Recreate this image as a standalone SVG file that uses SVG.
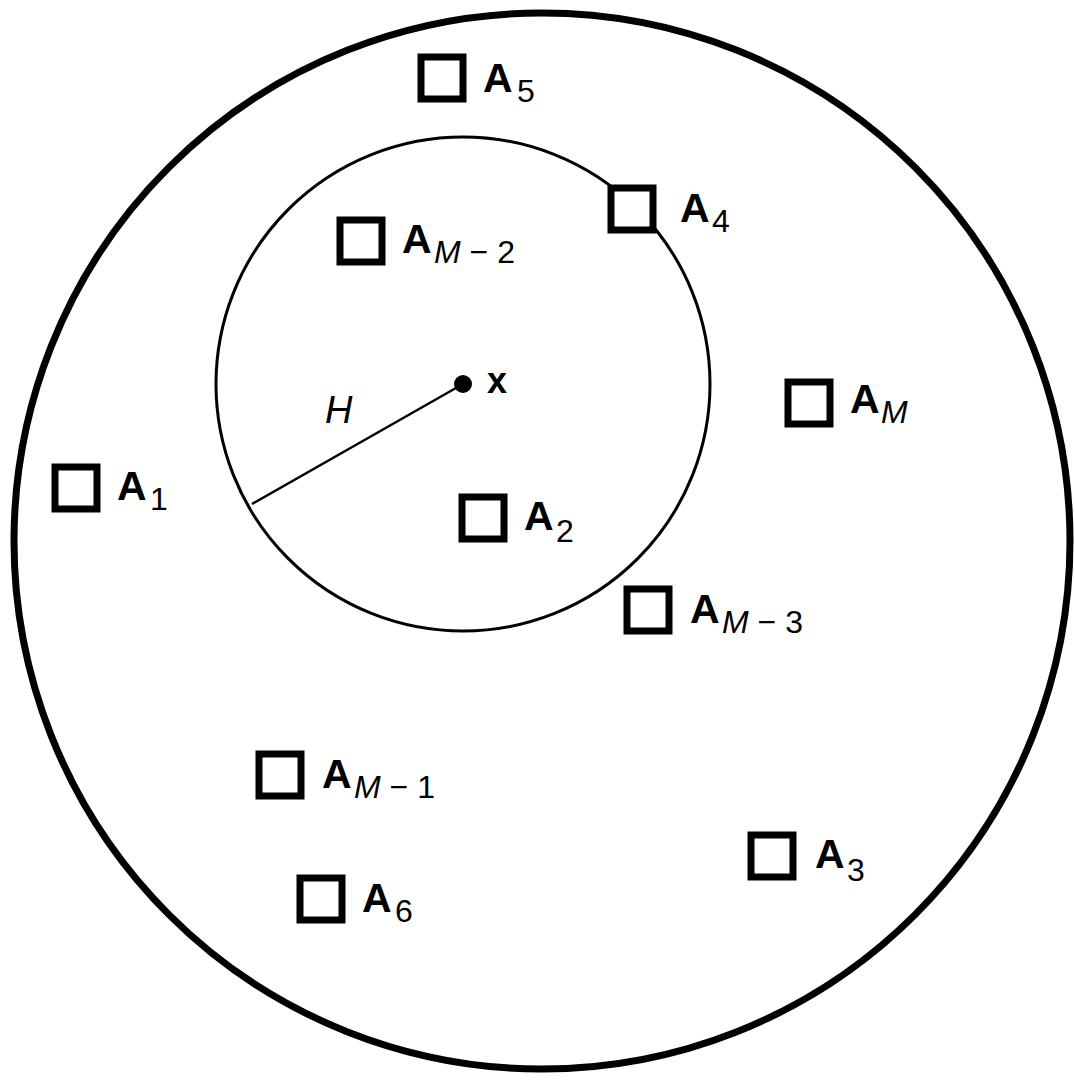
<svg xmlns="http://www.w3.org/2000/svg" width="1074" height="1082" viewBox="0 0 1074 1082">
<style>
.bg{fill:#fff}
.circ{fill:none;stroke:#000}
.sq{fill:#fff;stroke:#000;stroke-width:7}
.a{font-family:"Liberation Sans",Arial,sans-serif;font-weight:bold;font-size:41px;fill:#000}
.s{font-family:"Liberation Sans",Arial,sans-serif;font-weight:normal;font-size:32px}
.i{font-style:italic}
.h{font-family:"Liberation Sans",Arial,sans-serif;font-style:italic;font-size:38px;fill:#000}
.x{font-family:"Liberation Sans",Arial,sans-serif;font-weight:bold;font-size:36px;fill:#000}
</style>
<rect class="bg" x="0" y="0" width="1074" height="1082"/>
<g id="outer-circle"><circle class="circ" cx="542" cy="541" r="528" stroke-width="7"/></g>
<g id="inner-circle"><circle class="circ" cx="463" cy="384" r="247" stroke-width="3"/></g>
<g id="connectors"><line x1="463" y1="384" x2="252" y2="504" stroke="#000" stroke-width="2.5"/></g>
<g id="point-x"><circle cx="463" cy="384" r="9" fill="#000"/><text class="x" x="487" y="393">x</text></g>
<g id="label-H"><text class="h" x="325" y="423">H</text></g>
<g id="A5"><rect class="sq" x="421" y="57" width="42" height="42"/><text class="a" x="483" y="92">A<tspan class="s" x="517" y="102">5</tspan></text></g>
<g id="A4"><rect class="sq" x="611" y="188" width="42" height="42"/><text class="a" x="680" y="222">A<tspan class="s" x="712" y="232">4</tspan></text></g>
<g id="AM-2"><rect class="sq" x="340" y="220" width="42" height="42"/><text class="a" x="402" y="253">A<tspan class="s i" x="434" y="263">M</tspan><tspan class="s"> − 2</tspan></text></g>
<g id="AM"><rect class="sq" x="788" y="382" width="42" height="42"/><text class="a" x="850" y="413">A<tspan class="s i" x="881" y="423">M</tspan></text></g>
<g id="A1"><rect class="sq" x="55" y="467" width="42" height="42"/><text class="a" x="117" y="500">A<tspan class="s" x="150" y="510">1</tspan></text></g>
<g id="A2"><rect class="sq" x="462" y="497" width="42" height="42"/><text class="a" x="524" y="530">A<tspan class="s" x="556" y="542">2</tspan></text></g>
<g id="AM-3"><rect class="sq" x="627" y="589" width="42" height="42"/><text class="a" x="690" y="623">A<tspan class="s i" x="722" y="633">M</tspan><tspan class="s"> − 3</tspan></text></g>
<g id="AM-1"><rect class="sq" x="259" y="754" width="42" height="42"/><text class="a" x="322" y="788">A<tspan class="s i" x="354" y="798">M</tspan><tspan class="s"> − 1</tspan></text></g>
<g id="A3"><rect class="sq" x="751" y="835" width="42" height="42"/><text class="a" x="815" y="868">A<tspan class="s" x="847" y="881">3</tspan></text></g>
<g id="A6"><rect class="sq" x="300" y="878" width="42" height="42"/><text class="a" x="362" y="912">A<tspan class="s" x="395" y="922">6</tspan></text></g>
</svg>
